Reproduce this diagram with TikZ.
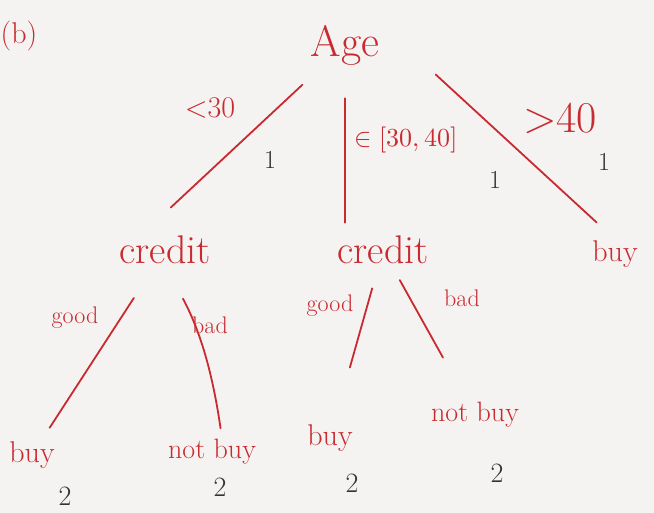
\documentclass[tikz,border=0pt]{standalone}
\usepackage{fontspec}
\usepackage{unicode-math}
\usepackage{tikz}
\usetikzlibrary{calc}
\tikzset{>=latex}
\definecolor{ink}{RGB}{200,42,48}
\definecolor{pencil}{RGB}{50,50,50}
\definecolor{paper}{RGB}{244,243,241}
\newcommand{\penfont}[1]{\fontsize{#1}{#1}\selectfont}
\tikzset{
  word/.style={color=ink, inner sep=1pt},
  cut/.style={color=ink, line width=1.8, line cap=round},
  count/.style={color=pencil, font=\penfont{26}}
}

\begin{document}
\begin{tikzpicture}[x=1pt,y=-1pt]

% Paper
\fill[paper] (0,0) rectangle (654,513);
\useasboundingbox (0,0) rectangle (654,513);

% Tree nodes
\node[word, font=\penfont{30}] (tag) at (19,36) {(b)};
\node[word, font=\penfont{44}] (age) at (345,45) {Age};
\node[word, font=\penfont{40}] (cred1) at (165,250) {credit};
\node[word, font=\penfont{40}] (cred2) at (383,250) {credit};
\node[word, font=\penfont{30}] (buyA) at (615,254) {buy};
\node[word, font=\penfont{30}] (buyB) at (32,455) {buy};
\node[word, font=\penfont{28}] (notB) at (212,452) {not buy};
\node[word, font=\penfont{30}] (buyC) at (330,438) {buy};
\node[word, font=\penfont{28}] (notC) at (475,415) {not buy};

% Branches
\draw[cut, shorten <=27pt, shorten >=40pt] (age) -- ($(cred1.north)!.5!(cred1.north west)$);
\draw[cut, shorten <=32pt, shorten >=12pt] (age.south) -- (age.south |- cred2.north);
\draw[cut, shorten <=75pt, shorten >=25pt] (age.north east) -- (buyA.north);
\draw[cut, shorten <=39pt, shorten >=15pt] (cred1) -- (buyB);
\draw[cut, shorten <=38pt, shorten >=10pt] (cred1.south) to[bend left=10] ([xshift=10pt]notB.north);
\draw[cut, shorten <=24pt, shorten >=58pt] (cred2) -- (buyC);
\draw[cut, shorten <=17pt, shorten >=50pt] (cred2) -- (notC);

% Branch labels
\node[word, font=\penfont{30}] (lt30) at (210,108) {<30};
\node[word, font=\penfont{26}] (mid) at (406,140) {$\in[30,40]$};
\node[word, font=\penfont{44}] (gt40) at (560,118) {>40};
\node[word, font=\penfont{24}] (goodB) at (75,318) {good};
\node[word, font=\penfont{24}] (badB) at (210,325) {bad};
\node[word, font=\penfont{24}] (goodC) at (330,306) {good};
\node[word, font=\penfont{24}] (badC) at (462,298) {bad};

% Counts
\node[count] (n1) at (270,160) {1};
\node[count] (n2) at (495,180) {1};
\node[count] (n3) at (604,162) {1};
\node[count, font=\penfont{28}] (m1) at (65,496) {2};
\node[count, font=\penfont{28}] (m2) at (220,487) {2};
\node[count, font=\penfont{28}] (m3) at (352,483) {2};
\node[count, font=\penfont{28}] (m4) at (497,473) {2};

\end{tikzpicture}
\end{document}
